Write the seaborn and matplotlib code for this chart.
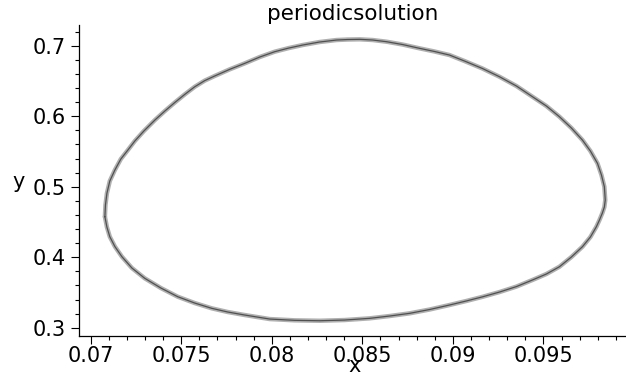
import seaborn as sns
import pandas as pd
import matplotlib
matplotlib.use("Agg")
import matplotlib.pyplot as plt
from matplotlib.ticker import AutoMinorLocator

# points (clockwise, starting at the far left)
orbit_x = [0.07079, 0.07082, 0.07090, 0.07106, 0.07134, 0.07167, 0.07206, 0.07244,
           0.07294, 0.07355, 0.07410, 0.07465, 0.07520, 0.07575, 0.07630, 0.07686,
           0.07768, 0.07851, 0.07934, 0.08016, 0.08094, 0.08171, 0.08265, 0.08358,
           0.08419, 0.08485, 0.08557, 0.08634, 0.08722, 0.08816, 0.08899, 0.08981,
           0.09064, 0.09163, 0.09257, 0.09351, 0.09439, 0.09516, 0.09588, 0.09654,
           0.09715, 0.09759, 0.09798, 0.09820, 0.09836, 0.09841, 0.09836, 0.09825,
           0.09809, 0.09792, 0.09759, 0.09715, 0.09654, 0.09588, 0.09516, 0.09439,
           0.09351, 0.09257, 0.09163, 0.09075, 0.08981, 0.08871, 0.08761, 0.08651,
           0.08540, 0.08402, 0.08265, 0.08127, 0.07989, 0.07851, 0.07757, 0.07669,
           0.07575, 0.07481, 0.07388, 0.07299, 0.07228, 0.07173, 0.07134, 0.07106,
           0.07090, 0.07079]
orbit_y = [0.4574, 0.4740, 0.4906, 0.5081, 0.5237, 0.5393, 0.5521, 0.5648,
           0.5790, 0.5946, 0.6074, 0.6195, 0.6310, 0.6418, 0.6505, 0.6572,
           0.6665, 0.6750, 0.6840, 0.6915, 0.6967, 0.7010, 0.7053, 0.7081,
           0.7088, 0.7091, 0.7081, 0.7057, 0.7017, 0.6963, 0.6918, 0.6868,
           0.6783, 0.6677, 0.6560, 0.6428, 0.6277, 0.6145, 0.5993, 0.5833,
           0.5662, 0.5506, 0.5332, 0.5166, 0.5000, 0.4811, 0.4712, 0.4627,
           0.4528, 0.4433, 0.4287, 0.4149, 0.4003, 0.3865, 0.3762, 0.3677,
           0.3584, 0.3506, 0.3438, 0.3380, 0.3322, 0.3258, 0.3204, 0.3166,
           0.3133, 0.3109, 0.3099, 0.3105, 0.3123, 0.3180, 0.3223, 0.3275,
           0.3350, 0.3440, 0.3563, 0.3701, 0.3847, 0.4007, 0.4152, 0.4291,
           0.4428, 0.4574]

x_ticks = [0.07, 0.075, 0.08, 0.085, 0.09, 0.095]
x_labels = ["0.07", "0.075", "0.08", "0.085", "0.09", "0.095"]
y_ticks = [0.3, 0.4, 0.5, 0.6, 0.7]
y_labels = ["0.3", "0.4", "0.5", "0.6", "0.7"]

sns.set_theme(style="ticks")
plt.rcParams["font.family"] = ["DejaVu Sans"]
plt.rcParams["text.color"] = "black"
plt.rcParams["xtick.color"] = "black"
plt.rcParams["ytick.color"] = "black"
plt.rcParams["axes.labelcolor"] = "black"

df = pd.DataFrame({"x": orbit_x, "y": orbit_y})

fig = plt.figure(figsize=(6.26, 3.76), dpi=100)
ax = fig.add_axes([0.1262, 0.1072, 0.8728, 0.8263])

# broad grey band + thin dark line on top, like the overlapping orbits
sns.lineplot(data=df, x="x", y="y", sort=False, estimator=None,
             color="#b0b0b0", linewidth=3.2, ax=ax)
sns.lineplot(data=df, x="x", y="y", sort=False, estimator=None,
             color="#505050", linewidth=0.9, ax=ax)

ax.set_xlim(0.06936, 0.09952)
ax.set_ylim(0.2887, 0.7294)
ax.set_xticks(x_ticks)
ax.set_xticklabels(x_labels)
ax.set_yticks(y_ticks)
ax.set_yticklabels(y_labels)
ax.xaxis.set_minor_locator(AutoMinorLocator(5))
ax.yaxis.set_minor_locator(AutoMinorLocator(5))
ax.tick_params(which="major", length=5.5, width=0.8, labelsize=15, pad=2)
ax.tick_params(which="minor", length=3, width=0.8)
ax.tick_params(axis="y", which="major", pad=4)

sns.despine(ax=ax)
for s in ["left", "bottom"]:
    ax.spines[s].set_linewidth(0.9)
    ax.spines[s].set_color("black")

ax.set_title("periodicsolution", fontsize=15.5, pad=3.6)
ax.set_xlabel("x", fontsize=15)
ax.xaxis.label.set_verticalalignment("baseline")
ax.xaxis.set_label_coords(0.5046, -0.117)
ax.set_ylabel("y", fontsize=15, rotation=0, ha="center", va="center")
ax.yaxis.set_label_coords(-0.1097, 0.495)

fig.savefig("out.png", dpi=100)
